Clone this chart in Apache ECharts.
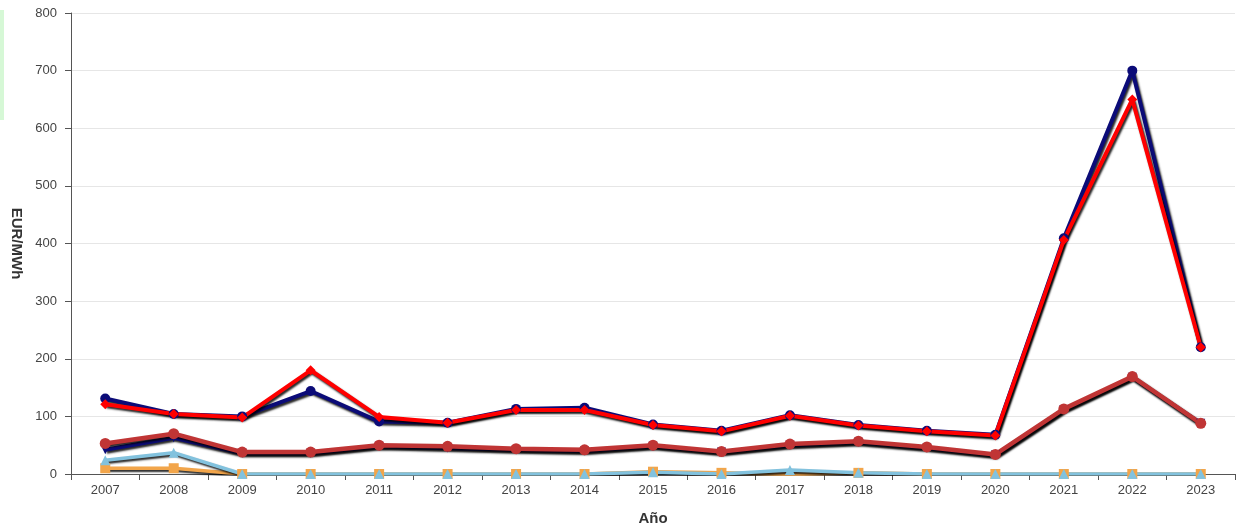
<!DOCTYPE html>
<html>
<head>
<meta charset="utf-8">
<script src="https://cdn.jsdelivr.net/npm/echarts@6/dist/echarts.min.js"></script>
<style>
html,body{margin:0;padding:0;background:#fff;}
#chart{width:1236px;height:528px;}
</style>
</head>
<body>
<div id="chart"></div>
<script>
var years = ['2007','2008','2009','2010','2011','2012','2013','2014','2015','2016','2017','2018','2019','2020','2021','2022','2023'];
var navyTop = [131, 104, 100, 144, 91, 89, 113, 115, 86, 75, 102, 85, 75, 68, 409, 700, 220];
var redTop  = [121, 104, 98, 180, 99, 89, 111, 111, 85, 74, 101, 84, 74, 67, 406, 650, 220];
var navyLow = [42, 63, 36, 36, 48, 45, 42, 40, 48, 38, 50, 55, 45, 33, 112, 168, 88];
var brown   = [53, 70, 38, 38, 50, 48, 44, 42, 50, 39, 52, 57, 47, 34, 113, 169, 88];
var blue    = [24, 37, 0, 0, 0, 0, 0, 0, 3, 0, 7, 2, 0, 0, 0, 0, 0];
var orange  = [10, 10, 0, 0, 0, 0, 0, 0, 4, 2, -1, 2, 0, 0, 0, 0, 0];
var yTicks  = [0, 100, 200, 300, 400, 500, 600, 700, 800];

function mk(name, data, color, symbol, size, rot, width) {
  return {
    name: name, type: 'line', data: data,
    symbol: symbol, symbolSize: size, symbolRotate: rot || 0,
    showAllSymbol: true,
    lineStyle: {color: color, width: width || 3.5, shadowColor: 'rgba(0,0,0,0.85)', shadowBlur: 2, shadowOffsetX: 1.5, shadowOffsetY: 2},
    itemStyle: {color: color},
    emphasis: {disabled: true},
    animation: false
  };
}

var chart = echarts.init(document.getElementById('chart'), null, {renderer: 'canvas'});
chart.setOption({
  backgroundColor: '#fff',
  animation: false,
  grid: {left: 71, right: 1, top: 13, bottom: 54, containLabel: false, outerBoundsMode: 'none'},
  graphic: [{type: 'rect', left: 0, top: 10, shape: {width: 4, height: 110}, style: {fill: '#d6f8d6'}}],
  xAxis: {
    type: 'category', data: years, boundaryGap: true,
    name: 'Año', nameLocation: 'middle', nameGap: 37,
    nameTextStyle: {fontFamily: 'Liberation Sans, Arial', fontWeight: 'bold', fontSize: 15, color: '#333'},
    axisLine: {lineStyle: {color: '#555', width: 1}},
    axisTick: {show: true, alignWithLabel: false, length: 6, lineStyle: {color: '#555'}},
    axisLabel: {fontFamily: 'Liberation Sans, Arial', fontSize: 13, color: '#444', margin: 10}
  },
  yAxis: {
    type: 'value', min: yTicks[0], max: yTicks[yTicks.length - 1], interval: 100,
    name: 'EUR/MWh', nameLocation: 'middle', nameGap: 47, nameRotate: -90,
    nameTextStyle: {fontFamily: 'Liberation Sans, Arial', fontWeight: 'bold', fontSize: 15, color: '#333'},
    axisLine: {show: true, lineStyle: {color: '#555', width: 1}},
    axisTick: {show: true, length: 6, lineStyle: {color: '#555'}},
    axisLabel: {fontFamily: 'Liberation Sans, Arial', fontSize: 13, color: '#444', margin: 14},
    splitLine: {lineStyle: {color: '#e6e6e6', width: 1}}
  },
  series: [
    mk('A', navyTop, '#0b0b78', 'circle', 10, 0, 4),
    mk('B', redTop, '#ff0000', 'diamond', 10, 0, 4),
    mk('C', navyLow, '#0b0b78', 'triangle', 9, 180, 4),
    mk('D', brown, '#c03535', 'circle', 11, 0, 4.5),
    mk('E', orange, '#f2a54a', 'rect', 10, 0, 3.5),
    mk('F', blue, '#82c2de', 'triangle', 10, 0, 3.5)
  ]
});
</script>
</body>
</html>
